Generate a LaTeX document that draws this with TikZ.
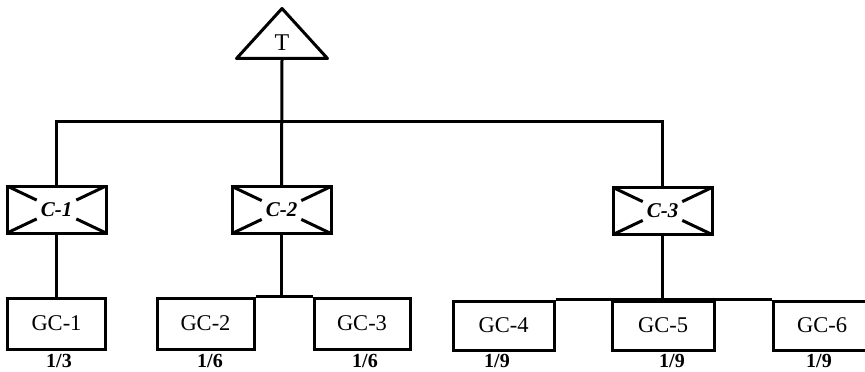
\documentclass[tikz,border=0pt]{standalone}
\usepackage{fontspec}
\setmainfont{Liberation Serif}
\usepackage{tikz}
\usetikzlibrary{shapes.geometric}
\usetikzlibrary{calc}
\usetikzlibrary{positioning}
\tikzset{line/.style ={line width=3pt}}
\tikzset{tri/.style ={draw, line width=3pt, line join=round, isosceles triangle, isosceles triangle apex angle=85, shape border rotate=90, isosceles triangle stretches, minimum width=91pt, minimum height=50pt, inner sep=0pt}}
\tikzset{gcbox/.style ={draw, line width=3pt, minimum width=98pt, minimum height=50pt, inner sep=0pt, font=\fontsize{22.5}{25}\selectfont}}
\tikzset{cbox/.style ={draw, line width=3pt, minimum width=99pt, minimum height=47pt, inner sep=0pt, font=\fontsize{21}{24}\selectfont\bfseries\itshape,
  path picture={\foreach \p/\q in {north west/south east, south east/north west, north east/south west, south west/north east}
    \draw[line] (path picture bounding box.\p) -- ($(path picture bounding box.\p)!0.3!(path picture bounding box.\q)$);}}}
\tikzset{frac/.style ={font=\fontsize{20}{22}\selectfont\bfseries, inner sep=0pt}}

\begin{document}
\begin{tikzpicture}[x=1pt,y=-1pt]
\useasboundingbox (0,0) rectangle (865,372);
% top
\node[tri, anchor=south] (t) at (282,60) {};
\node[font=\fontsize{24}{26}\selectfont, inner sep=0pt] (tl) at (282,43) {T};
% second level
\node[cbox] (c1) at (56.5,209.5) {C-1};
\node[cbox] (c2) at (281.5,210) {C-2};
\node[cbox] (c3) at (662.5,211) {C-3};
% third level
\node[gcbox, minimum height=51pt] (gc1) at (56.5,323.5) {GC-1};
\node[gcbox, minimum height=51pt, minimum width=97pt] (gc2) at (205.5,323.5) {GC-2};
\node[gcbox, minimum height=51pt, minimum width=96pt] (gc3) at (362,323.5) {GC-3};
\node[gcbox, minimum height=49pt, minimum width=101pt] (gc4) at (503.5,325.5) {GC-4};
\node[gcbox, minimum height=49pt, minimum width=102pt] (gc5) at (663,325.5) {GC-5};
\node[gcbox, minimum height=49pt] (gc6) at (822,325.5) {GC-6};
% shares
\node[frac] (f1) at (59,361) {1/3};
\node[frac] (f2) at (210,361) {1/6};
\node[frac] (f3) at (365,361) {1/6};
\node[frac] (f4) at (497,361) {1/9};
\node[frac] (f5) at (672,361) {1/9};
\node[frac] (f6) at (819,361) {1/9};
% connectors
\coordinate (bus) at (282,121);
\draw[line] (t.south) -- (c2.north);
\draw[line] (c1.north) |- (bus) -| (c3.north);
\draw[line] (c1) -- (gc1);
\draw[line] (gc2.north east) -- (gc3.north west);
\draw[line] (c2.south) -- (c2.south |- gc2.north);
\draw[line] (gc4.north east) -- (gc6.north west);
\draw[line] (c3.south) -- (c3.south |- gc4.north);
\end{tikzpicture}
\end{document}
